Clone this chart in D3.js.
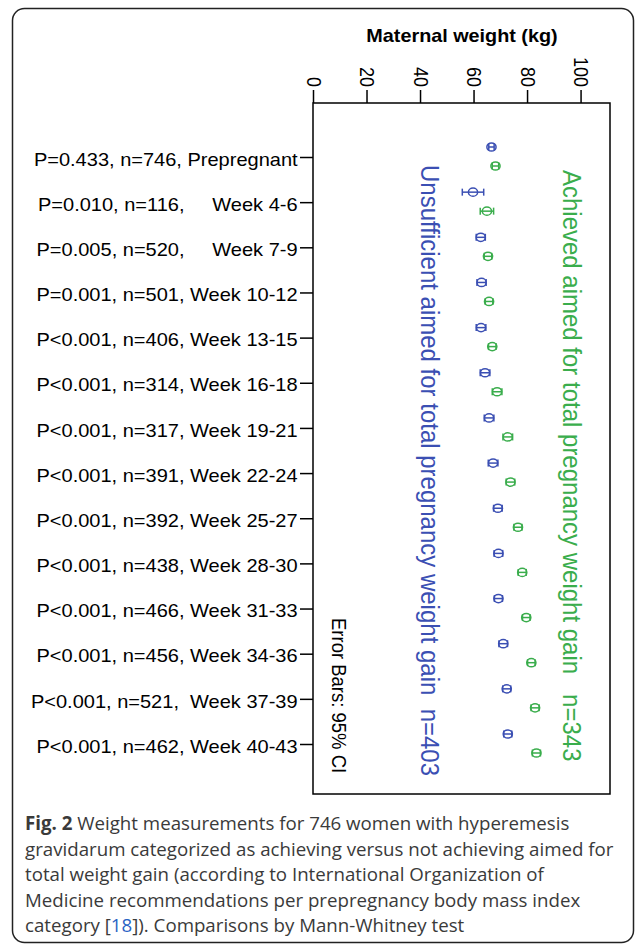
<!DOCTYPE html>
<html>
<head>
<meta charset="utf-8">
<style>
body{ margin:0; background:#fff; }
svg text{ font-family: "Liberation Sans", Arial, sans-serif; }
.caption{ font-family: "Open Sans", sans-serif; fill:#3a3a3a; font-size:18.7px; }
</style>
<script src="https://d3js.org/d3.v7.min.js"></script>
</head>
<body>
<script>
var w = 635;
var h = 947;

// categories (tick labels on the left)
var weeks = ["Prepregnant", "Week 4-6", "Week 7-9", "Week 10-12", "Week 13-15", "Week 16-18",
             "Week 19-21", "Week 22-24", "Week 25-27", "Week 28-30", "Week 31-33",
             "Week 34-36", "Week 37-39", "Week 40-43"];
var pValues = ["P=0.433", "P=0.010", "P=0.005", "P=0.001", "P<0.001", "P<0.001", "P<0.001",
               "P<0.001", "P<0.001", "P<0.001", "P<0.001", "P<0.001", "P<0.001", "P<0.001"];
var nValues = [746, 116, 520, 501, 406, 314, 317, 391, 392, 438, 466, 456, 521, 462];
var xTicks = [0, 20, 40, 60, 80, 100];

// means and 95% CI half widths (kg)
var unsuffMean = [66.7, 59.8, 62.7, 63.0, 62.8, 64.3, 65.8, 67.3, 69.1, 69.3, 69.3, 71.1, 72.4, 72.8];
var unsuffCI   = [1.0, 4.0, 1.7, 1.7, 1.8, 1.8, 1.8, 1.8, 1.6, 1.6, 1.5, 1.6, 1.5, 1.5];
var achMean    = [68.2, 65.0, 65.4, 65.8, 67.0, 68.8, 72.8, 73.8, 76.6, 78.2, 79.7, 81.6, 83.0, 83.5];
var achCI      = [1.2, 2.5, 1.4, 1.4, 1.4, 1.8, 1.8, 1.6, 1.5, 1.5, 1.4, 1.4, 1.5, 1.5];

var series = [
    {key: "unsuff", mean: unsuffMean, ci: unsuffCI, color: "#3b4fb3",
     label: "Unsufficient aimed for total pregnancy weight gain  n=403"},
    {key: "ach", mean: achMean, ci: achCI, color: "#3aad4c",
     label: "Achieved aimed for total pregnancy weight gain   n=343"}
];

// pad short labels like the original output
var labels = weeks.map(function(wk, i){
    var pad = " ";
    if (wk.length <= 8) pad = "     ";
    else if (wk == "Week 37-39") pad = "  ";
    return pValues[i] + ", n=" + nValues[i] + "," + pad + wk;
});

var svg = d3.select("body").append("svg")
    .attr("width", w)
    .attr("height", h);

// outer frame
svg.append("rect")
   .attr("x", 12.5).attr("y", 8.5)
   .attr("width", 621).attr("height", 934)
   .attr("rx", 12)
   .attr("fill", "none")
   .attr("stroke", "#222")
   .attr("stroke-width", 1.5);

var box = {left: 313, right: 610, top: 103, bottom: 794};

var xScale = d3.scaleLinear()
    .domain([0, 111])
    .range([box.left, box.right]);

var yScale = d3.scalePoint()
    .domain(labels)
    .range([157, 744]);

var offset = d3.scalePoint()
    .domain(["unsuff", "ach"])
    .range([-10, 9]);

// plot box
svg.append("rect")
   .attr("x", box.left).attr("y", box.top)
   .attr("width", box.right - box.left)
   .attr("height", box.bottom - box.top)
   .attr("fill", "none")
   .attr("stroke", "#000")
   .attr("stroke-width", 1.5);

// top axis
var xAxis = svg.append("g")
    .attr("transform", "translate(0," + box.top + ")")
    .call(d3.axisTop(xScale).tickValues(xTicks).tickSize(13).tickSizeOuter(0));
xAxis.select(".domain").remove();
xAxis.selectAll("line").attr("stroke", "#000").attr("stroke-width", 1.5);
xAxis.selectAll("text")
    .attr("y", null).attr("dy", null)
    .attr("transform", "translate(0,-16) scale(1.1,1) rotate(90)")
    .attr("text-anchor", "end")
    .attr("dominant-baseline", "central")
    .attr("font-size", 18)
    .attr("font-family", "Liberation Sans, Arial, sans-serif")
    .attr("fill", "#000");

svg.append("text")
   .attr("transform", "translate(462,42) scale(1.1,1)")
   .attr("text-anchor", "middle")
   .attr("font-weight", "bold")
   .attr("font-size", 18)
   .text("Maternal weight (kg)");

// left axis
var yAxis = svg.append("g")
    .attr("transform", "translate(" + box.left + ",0)")
    .call(d3.axisLeft(yScale).tickSize(13).tickSizeOuter(0).tickPadding(1));
yAxis.select(".domain").remove();
yAxis.selectAll("line").attr("stroke", "#000").attr("stroke-width", 1.5);
yAxis.selectAll("text")
    .attr("transform", "scale(1.1,1)")
    .attr("dy", "0.45em")
    .attr("font-size", 18.2)
    .attr("font-family", "Liberation Sans, Arial, sans-serif")
    .attr("fill", "#000")
    .style("white-space", "pre");

// error bars and markers
series.forEach(function(s){
    var g = svg.append("g").attr("stroke", s.color).attr("fill", "none").attr("stroke-width", 1.5);
    var rows = g.selectAll("g")
        .data(labels.map(function(lab, i){ return {lab: lab, m: s.mean[i], ci: s.ci[i]}; }))
        .enter().append("g")
        .attr("transform", function(d){ return "translate(0," + (yScale(d.lab) + offset(s.key)) + ")"; });
    rows.append("line")
        .attr("x1", function(d){ return xScale(d.m - d.ci); })
        .attr("x2", function(d){ return xScale(d.m + d.ci); })
        .attr("y1", 0).attr("y2", 0);
    rows.append("line")
        .attr("x1", function(d){ return xScale(d.m - d.ci); })
        .attr("x2", function(d){ return xScale(d.m - d.ci); })
        .attr("y1", -3.5).attr("y2", 3.5);
    rows.append("line")
        .attr("x1", function(d){ return xScale(d.m + d.ci); })
        .attr("x2", function(d){ return xScale(d.m + d.ci); })
        .attr("y1", -3.5).attr("y2", 3.5);
    rows.append("ellipse")
        .attr("cx", function(d){ return xScale(d.m); })
        .attr("cy", 0)
        .attr("rx", 4.6).attr("ry", 4.1);
});

// rotated series labels
svg.append("text")
   .attr("transform", "translate(421,165) scale(1.1,1) rotate(90)")
   .attr("font-size", 24)
   .attr("fill", series[0].color)
   .style("white-space", "pre")
   .text(series[0].label);

svg.append("text")
   .attr("transform", "translate(563,170) scale(1.1,1) rotate(90)")
   .attr("font-size", 24)
   .attr("fill", series[1].color)
   .style("white-space", "pre")
   .text(series[1].label);

svg.append("text")
   .attr("transform", "translate(332,618) scale(1.1,1) rotate(90)")
   .attr("font-size", 18.5)
   .attr("fill", "#000")
   .text("Error Bars: 95% CI");

// caption
var capLines = [
    [{t: "Fig. 2", b: true}, {t: " Weight measurements for 746 women with hyperemesis"}],
    [{t: "gravidarum categorized as achieving versus not achieving aimed for"}],
    [{t: "total weight gain (according to International Organization of"}],
    [{t: "Medicine recommendations per prepregnancy body mass index"}],
    [{t: "category ["}, {t: "18", c: "#2a63c4"}, {t: "]). Comparisons by Mann-Whitney test"}]
];
var cap = svg.append("text").attr("class", "caption").style("white-space", "pre");
capLines.forEach(function(line, i){
    var first = true;
    line.forEach(function(part){
        var ts = cap.append("tspan").text(part.t);
        if (first) { ts.attr("x", 25).attr("y", 830 + i * 25.6); first = false; }
        if (part.b) ts.attr("font-weight", "bold");
        if (part.c) ts.attr("fill", part.c);
    });
});
</script>
</body>
</html>
